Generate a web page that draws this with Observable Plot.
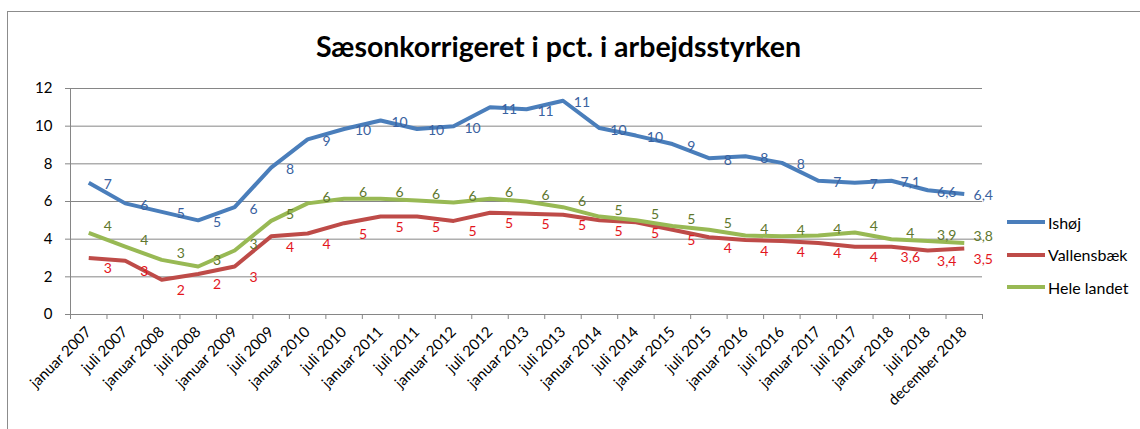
<!DOCTYPE html>
<html>
<head>
<meta charset="utf-8">
<script src="https://cdn.jsdelivr.net/npm/d3@7"></script>
<script src="https://cdn.jsdelivr.net/npm/@observablehq/plot@0.6"></script>
<style>
  body { margin: 0; background: #fff; font-family: Lato, "Open Sans", sans-serif; }
  #wrap { position: relative; width: 1140px; height: 429px; overflow: hidden; background: #fff; }
  #chart { position: absolute; left: 0; top: 0; }
  #border { position: absolute; left: 7px; top: 11px; width: 1300px; height: 600px; border: 1.5px solid #8c8c8c; box-sizing: border-box; }
  #title { position: absolute; left: 0; width: 1117px; top: 30px; text-align: center; font-weight: bold; font-size: 28.5px; line-height: 32px; color: #000; white-space: nowrap; }
  #legend { position: absolute; left: 1007px; top: 206px; font-size: 16px; color: #000; }
  .item { display: flex; align-items: center; height: 32.5px; }
  .item svg { margin-right: 3px; }
</style>
</head>
<body>
<div id="wrap">
  <div id="border"></div>
  <div id="chart"></div>
  <div id="title">Sæsonkorrigeret i pct. i arbejdsstyrken</div>
  <div id="legend"></div>
</div>
<script>
const categories = [
  "januar 2007","juli 2007","januar 2008","juli 2008","januar 2009","juli 2009",
  "januar 2010","juli 2010","januar 2011","juli 2011","januar 2012","juli 2012",
  "januar 2013","juli 2013","januar 2014","juli 2014","januar 2015","juli 2015",
  "januar 2016","juli 2016","januar 2017","juli 2017","januar 2018","juli 2018",
  "december 2018"
];
const seriesNames = ["Ishøj", "Vallensbæk", "Hele landet"];
const ishoj = [7.0, 5.9, 5.45, 5.0, 5.7, 7.8, 9.3, 9.85, 10.3, 9.85, 10.0, 11.0, 10.9, 11.35, 9.9, 9.5, 9.05, 8.3, 8.4, 8.05, 7.1, 7.0, 7.1, 6.6, 6.4];
const vallensbaek = [3.0, 2.85, 1.85, 2.15, 2.55, 4.15, 4.3, 4.85, 5.2, 5.2, 4.97, 5.4, 5.35, 5.3, 5.0, 4.9, 4.5, 4.1, 3.95, 3.9, 3.8, 3.6, 3.6, 3.4, 3.5];
const heleLandet = [4.33, 3.6, 2.9, 2.55, 3.4, 4.97, 5.9, 6.15, 6.15, 6.05, 5.95, 6.15, 6.0, 5.7, 5.2, 5.0, 4.7, 4.5, 4.2, 4.15, 4.2, 4.35, 4.0, 3.9, 3.8];
const yTicks = [0, 2, 4, 6, 8, 10, 12];
const firstDecimalIndex = 22; // labels from januar 2018 on show one decimal

const lineColors = ["#4a7ebb", "#be4b48", "#98b954"];
const labelColors = ["#3a62a0", "#e3161d", "#60782e"];
const labelDy = [2, 11, -6];

const seriesValues = [ishoj, vallensbaek, heleLandet];
const fmtLabel = (v, i) => i >= firstDecimalIndex
  ? String(Number(v.toFixed(1))).replace(".", ",")
  : String(Math.round(v));

const data = seriesValues.flatMap((vals, s) =>
  vals.map((v, i) => ({ series: seriesNames[s], s, i, v, label: fmtLabel(v, i) }))
);

const n = categories.length;
const xDomain = [-0.5, n - 0.5];
const gray = "#868686";

const marks = [
  Plot.gridY(yTicks, { stroke: gray, strokeOpacity: 1, strokeWidth: 1 }),
  Plot.ruleX([xDomain[0]], { stroke: gray, strokeWidth: 1 }),
  Plot.axisY({ ticks: yTicks, tickSize: 5, tickPadding: 13, stroke: gray, label: null, fontSize: 15, fill: "#000" }),
  Plot.axisX({ ticks: d3.range(n + 1).map(k => k - 0.5), tickSize: 5, tickFormat: () => "", stroke: gray, label: null }),
  Plot.axisX({ ticks: d3.range(n), tickSize: 0, tickPadding: 9, dy: 6, tickRotate: -45, tickFormat: i => categories[i], label: null, fontSize: 15, fill: "#000" })
];
seriesNames.forEach((name, s) => {
  const d = data.filter(r => r.s === s);
  marks.push(Plot.line(d, { x: "i", y: "v", stroke: lineColors[s], strokeWidth: 4, strokeLinejoin: "round", strokeLinecap: "butt" }));
});
seriesNames.forEach((name, s) => {
  const d = data.filter(r => r.s === s);
  marks.push(Plot.text(d, { x: "i", y: "v", text: "label", fill: labelColors[s], dx: 19, dy: labelDy[s], fontSize: 14 }));
});

const chart = Plot.plot({
  width: 1140,
  height: 429,
  marginLeft: 70,
  marginRight: 158,
  marginTop: 88,
  marginBottom: 115,
  style: { fontFamily: "Lato, 'Open Sans', sans-serif", fontSize: "15px", color: "#000", background: "transparent", overflow: "visible" },
  x: { type: "linear", domain: xDomain },
  y: { type: "linear", domain: [0, 12] },
  marks
});
document.getElementById("chart").appendChild(chart);

const legend = document.getElementById("legend");
seriesNames.forEach((name, s) => {
  const item = document.createElement("div");
  item.className = "item";
  item.innerHTML = `<svg width="38" height="6"><line x1="0" x2="38" y1="3" y2="3" stroke="${lineColors[s]}" stroke-width="4"/></svg><span>${name}</span>`;
  legend.appendChild(item);
});
</script>
</body>
</html>
